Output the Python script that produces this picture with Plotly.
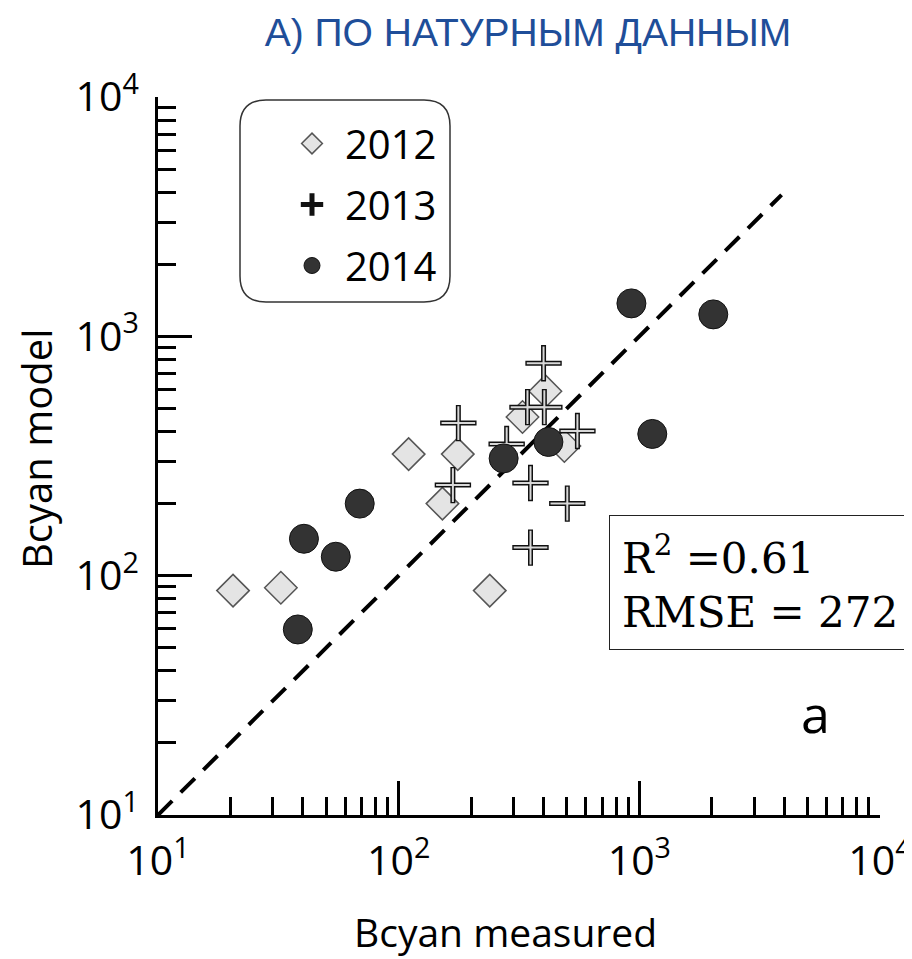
import plotly.graph_objects as go

# ---- data ----
x_2012 = [20.5, 32.4, 110, 176, 152, 239, 327, 407, 488]
y_2012 = [86.6, 89, 322, 322, 200, 86.6, 460, 590, 348]

x_2013 = [400, 343, 403, 553, 177, 168, 353, 502, 353, 281]
y_2013 = [772, 506, 506, 402, 434, 239, 244, 200, 131, 355]

x_2014 = [38.1, 40.4, 54.8, 68.9, 273, 419, 927, 2029, 1132]
y_2014 = [59.6, 142.6, 120, 200, 309, 362, 1373, 1235, 391]

line_x = [10, 3900]
line_y = [10, 3900]

tick_vals = [10, 100, 1000, 10000]
tick_text = ["10<sup>1</sup>", "10<sup>2</sup>", "10<sup>3</sup>", "10<sup>4</sup>"]

title_text = "А) ПО НАТУРНЫМ ДАННЫМ"
x_title = "Bcyan measured"
y_title = "Bcyan model"
stats_text = "R<sup>2</sup> =0.61<br>RMSE = 272"
panel_label = "a"

SANS = "Open Sans"

# page body has an 8px default margin -> figure is drawn 8px right/down
OFF = 8
W, H = 912, 959 - OFF
PL, PR, PT, PB = 158, 880, 97, 815          # plot area in screen pixels
PW, PH = PR - PL, PB - PT


def px_x(sx):
    return (sx - PL) / PW


def px_y(sy):
    return (PB - sy) / PH


fig = go.Figure()

fig.add_trace(go.Scatter(x=line_x, y=line_y, mode="lines",
                         line=dict(color="black", width=4, dash="20px,12px"),
                         showlegend=False, hoverinfo="skip"))

fig.add_trace(go.Scatter(x=x_2012, y=y_2012, mode="markers", name="2012",
                         legendgroup="a",
                         marker=dict(symbol="diamond", size=25, color="#e4e4e4",
                                     line=dict(color="#555555", width=1.5))))

fig.add_trace(go.Scatter(x=x_2013, y=y_2013, mode="markers", name="2013",
                         legendgroup="b",
                         marker=dict(symbol="cross-thin", size=26, color="#111111",
                                     line=dict(color="#111111", width=5))))
fig.add_trace(go.Scatter(x=x_2013, y=y_2013, mode="markers", name="2013",
                         legendgroup="b", showlegend=False,
                         marker=dict(symbol="cross-thin", size=24, color="#d8d8d8",
                                     line=dict(color="#d8d8d8", width=2))))

fig.add_trace(go.Scatter(x=x_2014, y=y_2014, mode="markers", name="2014",
                         legendgroup="c",
                         marker=dict(symbol="circle", size=29, color="#333333",
                                     line=dict(color="#111111", width=1))))

axis_common = dict(
    type="log", range=[1, 4], automargin=False,
    tickmode="array", tickvals=tick_vals, ticktext=tick_text,
    ticks="inside", ticklen=34, tickwidth=2.5, tickcolor="black",
    showline=True, linecolor="black", linewidth=3,
    showgrid=False, zeroline=False, mirror=False,
    tickfont=dict(family=SANS, size=41, color="black"),
    ticklabeloverflow="allow",
    minor=dict(ticks="inside", ticklen=18, tickwidth=2.5, tickcolor="black",
               dtick="D1", showgrid=False),
)

fig.update_xaxes(**axis_common, ticklabelstandoff=8)
fig.update_yaxes(**axis_common, ticklabelstandoff=8)

# rounded legend frame
x0, x1 = px_x(240), px_x(450)
y0, y1 = px_y(302), px_y(100)
rx, ry = 26 / PW, 26 / PH
path = (f"M {x0+rx},{y1} L {x1-rx},{y1} Q {x1},{y1} {x1},{y1-ry} "
        f"L {x1},{y0+ry} Q {x1},{y0} {x1-rx},{y0} L {x0+rx},{y0} "
        f"Q {x0},{y0} {x0},{y0+ry} L {x0},{y1-ry} Q {x0},{y1} {x0+rx},{y1} Z")
fig.add_shape(type="path", path=path, xref="paper", yref="paper",
              line=dict(color="#333333", width=1.5), fillcolor="rgba(0,0,0,0)")

fig.update_layout(
    width=W, height=H,
    margin=dict(l=PL - OFF, r=W - (PR - OFF), t=PT - OFF, b=H - (PB - OFF)),
    plot_bgcolor="white", paper_bgcolor="white",
    title=dict(text=title_text, x=(528 - OFF) / W, xanchor="center",
               y=1 - (32 - OFF) / H, yanchor="middle",
               font=dict(family="Liberation Sans", size=39, color="#1F4E99"),
               automargin=False),
    legend=dict(x=px_x(279), y=px_y(111), xanchor="left", yanchor="top",
                bgcolor="rgba(0,0,0,0)", borderwidth=0,
                font=dict(family=SANS, size=40, color="black"),
                tracegroupgap=6, itemwidth=56),
    annotations=[
        dict(text=x_title, xref="paper", yref="paper",
             x=px_x(505), y=px_y(931), xanchor="center", yanchor="middle",
             showarrow=False, font=dict(family=SANS, size=39, color="black")),
        dict(text=y_title, xref="paper", yref="paper", textangle=-90,
             x=px_x(36), y=px_y(449), xanchor="center", yanchor="middle",
             showarrow=False, font=dict(family=SANS, size=40, color="black")),
        dict(text=stats_text, xref="paper", yref="paper",
             x=px_x(609), y=px_y(515), xanchor="left", yanchor="top",
             align="left", showarrow=False, width=330, borderpad=12,
             bordercolor="#222222", borderwidth=1, bgcolor="white",
             font=dict(family="DejaVu Serif", size=42, color="black")),
        dict(text=panel_label, xref="paper", yref="paper",
             x=px_x(815), y=px_y(712), xanchor="center", yanchor="middle",
             showarrow=False, font=dict(family=SANS, size=52, color="black")),
    ],
)

fig.write_html("out.html")
